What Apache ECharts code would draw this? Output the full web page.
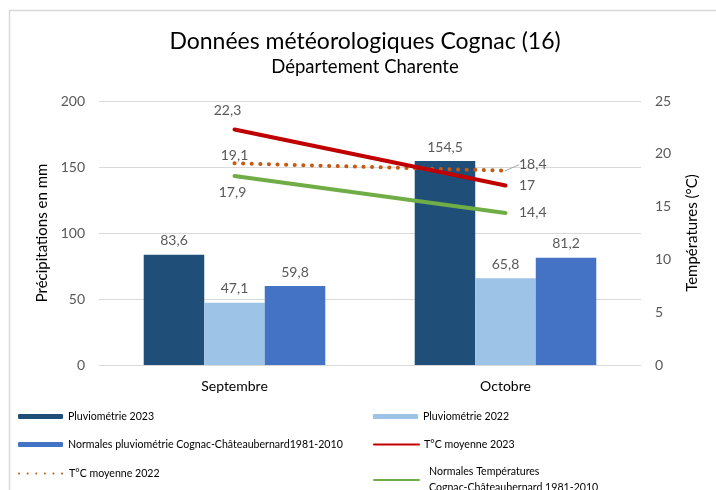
<!DOCTYPE html>
<html>
<head>
<meta charset="utf-8">
<script src="https://cdn.jsdelivr.net/npm/echarts@6/dist/echarts.min.js"></script>
<style>html,body{margin:0;padding:0;background:#fff}#c{width:716px;height:490px}</style>
</head>
<body>
<div id="c"></div>
<script>
const categories = ['Septembre', 'Octobre'];
const pluvio2023 = [83.6, 154.5];
const pluvio2022 = [47.1, 65.8];
const pluvioNormales = [59.8, 81.2];
const temp2023 = [22.3, 17];
const temp2022 = [19.1, 18.4];
const tempNormales = [17.9, 14.4];
const leftTicks = { min: 0, max: 200, interval: 50 };
const rightTicks = { min: 0, max: 25, interval: 5 };

const FONT = 'Lato';
const fmt = p => String(p.value).replace('.', ',');
const labelBase = { show: true, color: '#595959', fontSize: 14, fontFamily: FONT, formatter: fmt };

const N1 = 'Pluviométrie 2023', N2 = 'Pluviométrie 2022',
      N3 = 'Normales pluviométrie Cognac-Châteaubernard1981-2010',
      N4 = 'T°C moyenne 2023', N5 = 'T°C moyenne 2022',
      N6 = 'Normales Températures\nCognac-Châteaubernard 1981-2010';

const LEG_FS = 10.6;
function leg(name, left, top, extra) {
  return Object.assign({
    left: left, top: top, itemWidth: 45, itemHeight: 5, itemGap: 0,
    textStyle: { fontFamily: FONT, fontSize: LEG_FS, color: '#000' },
    data: [name]
  }, extra || {});
}
const hideSym = { itemStyle: { opacity: 0 } };

function lineData(values, labels) {
  return values.map((v, i) => ({ value: v, label: labels[i] }));
}

const chart = echarts.init(document.getElementById('c'), null, { renderer: 'canvas' });
chart.setOption({
  animation: false,
  backgroundColor: '#fff',
  graphic: [{
    type: 'rect', shape: { x: 9.5, y: 10.5, width: 800, height: 600 },
    style: { fill: 'none', stroke: '#d9d9d9', lineWidth: 1.5 }, silent: true
  }],
  title: {
    text: 'Données météorologiques Cognac (16)',
    subtext: 'Département Charente',
    left: 360, top: 25, itemGap: 5, padding: 5, textAlign: 'center',
    textStyle: { fontFamily: FONT, fontSize: 23, fontWeight: 'normal', color: '#000' },
    subtextStyle: { fontFamily: FONT, fontSize: 18.5, color: '#000' }
  },
  grid: { left: 99, right: 75, top: 101, bottom: 125 },
  legend: [
    leg(N1, 13, 406),
    leg(N3, 13, 434),
    leg(N5, 13, 463, hideSym),
    leg(N2, 368, 406),
    leg(N4, 368, 434, hideSym),
    leg(N6, 368, 451, Object.assign({ textStyle: { fontFamily: FONT, fontSize: LEG_FS, color: '#000', lineHeight: 16, padding: [16, 0, 0, 5] } }, hideSym))
  ],
  xAxis: {
    type: 'category', data: categories,
    axisLine: { lineStyle: { color: '#d9d9d9' } }, axisTick: { show: false },
    axisLabel: { color: '#000', fontSize: 14, fontFamily: FONT, margin: 14 }
  },
  yAxis: [{
    type: 'value', min: leftTicks.min, max: leftTicks.max, interval: leftTicks.interval,
    name: 'Précipitations en mm', nameLocation: 'middle', nameGap: 48,
    nameTextStyle: { fontFamily: FONT, fontSize: 15, color: '#000' },
    axisLine: { show: false }, axisTick: { show: false },
    axisLabel: { color: '#595959', fontSize: 14, fontFamily: FONT, margin: 14 },
    splitLine: { lineStyle: { color: '#d9d9d9', width: 1 } }
  }, {
    type: 'value', min: rightTicks.min, max: rightTicks.max, interval: rightTicks.interval,
    name: 'Températures (°C)', nameLocation: 'middle', nameGap: 44,
    nameTextStyle: { fontFamily: FONT, fontSize: 15, color: '#000' },
    axisLine: { show: false }, axisTick: { show: false },
    axisLabel: { color: '#595959', fontSize: 14, fontFamily: FONT, margin: 14 },
    splitLine: { show: false }
  }],
  series: [
    { name: N1, type: 'bar', data: pluvio2023, barGap: '0%', barCategoryGap: '33%',
      itemStyle: { color: '#1F4E79' }, label: Object.assign({}, labelBase, { position: 'top', distance: 7 }) },
    { name: N2, type: 'bar', data: pluvio2022,
      itemStyle: { color: '#9DC3E6' }, label: Object.assign({}, labelBase, { position: 'top', distance: 7 }) },
    { name: N3, type: 'bar', data: pluvioNormales,
      itemStyle: { color: '#4472C4' }, label: Object.assign({}, labelBase, { position: 'top', distance: 7 }) },
    { name: N4, type: 'line', yAxisIndex: 1, symbol: 'circle', symbolSize: 1,
      data: lineData(temp2023, [{ position: 'top', distance: 12, offset: [-7, 0] }, { position: 'right', distance: 13 }]),
      lineStyle: { color: '#C00000', width: 4, cap: 'round' }, itemStyle: { color: '#C00000' },
      label: labelBase, z: 4 },
    { name: N5, type: 'line', yAxisIndex: 1, symbol: 'circle', symbolSize: 1,
      data: lineData(temp2022, [{ position: 'top', distance: 0, offset: [-2, 0] }, { position: 'right', distance: 13 }]),
      lineStyle: { color: '#C55A11', width: 4, type: [0.1, 8.5], cap: 'round' }, itemStyle: { color: '#C55A11' },
      label: labelBase, z: 3,
      labelLine: { show: true, lineStyle: { color: '#a6a6a6', width: 1 } },
      labelLayout: p => p.dataIndex === 1 ? { dy: -6 } : {} },
    { name: N6, type: 'line', yAxisIndex: 1, symbol: 'circle', symbolSize: 1,
      data: lineData(tempNormales, [{ position: 'bottom', distance: 9, offset: [-2, 0] }, { position: 'right', distance: 13 }]),
      lineStyle: { color: '#70AD47', width: 4, cap: 'round' }, itemStyle: { color: '#70AD47' },
      label: labelBase, z: 3 }
  ]
});
</script>
</body>
</html>
